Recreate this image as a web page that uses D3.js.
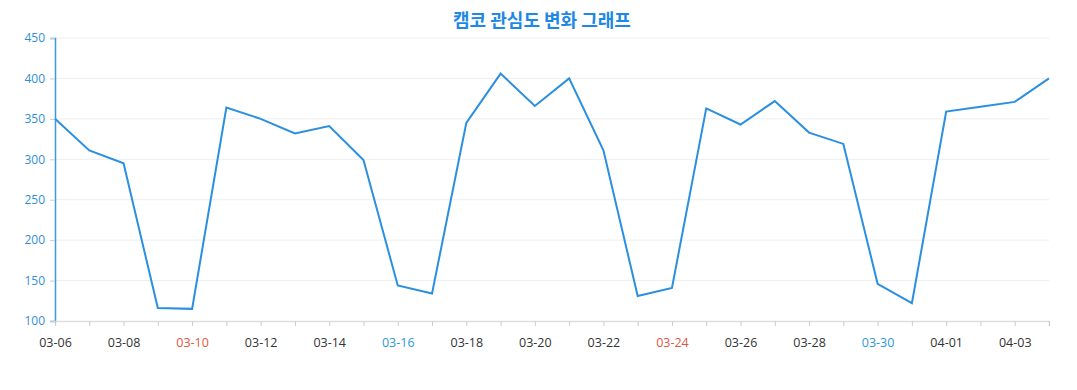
<!DOCTYPE html>
<html>
<head>
<meta charset="utf-8">
<script src="https://cdn.jsdelivr.net/npm/d3@7"></script>
<style>
  body { margin: 0; background: #fff; }
  svg { display: block; font-family: "Open Sans", "Noto Sans", sans-serif; }
</style>
</head>
<body>
<div id="chart"></div>
<script>
const dates = ['03-06','03-07','03-08','03-09','03-10','03-11','03-12','03-13','03-14','03-15',
  '03-16','03-17','03-18','03-19','03-20','03-21','03-22','03-23','03-24','03-25',
  '03-26','03-27','03-28','03-29','03-30','03-31','04-01','04-02','04-03','04-04'];
const values = [350, 311, 295, 116, 115, 364, 350, 332, 341, 299,
  144, 134, 345, 406, 366, 400, 311, 131, 141, 363,
  343, 372, 333, 319, 146, 122, 359, 365, 371, 400];
const yTicks = [100, 150, 200, 250, 300, 350, 400, 450];
const redDates = ['03-10', '03-24'];
const blueDates = ['03-16', '03-30'];

const width = 1077, height = 390;
const margin = { top: 38, right: 28, bottom: 69, left: 55 };

const svg = d3.select('#chart').append('svg')
  .attr('width', width)
  .attr('height', height);

const x = d3.scalePoint()
  .domain(dates)
  .range([margin.left, width - margin.right]);

const y = d3.scaleLinear()
  .domain([100, 450])
  .range([height - margin.bottom, margin.top]);

// title
svg.append('text')
  .attr('x', 542)
  .attr('y', 27)
  .attr('text-anchor', 'middle')
  .style('font-family', '"Noto Sans CJK KR", "Noto Sans", sans-serif')
  .style('font-size', '18px')
  .style('font-weight', 'bold')
  .attr('fill', '#1e88e5')
  .text('캠코 관심도 변화 그래프');

// grid lines
svg.append('g')
  .selectAll('line')
  .data(yTicks.slice(1))
  .enter()
  .append('line')
  .attr('x1', margin.left)
  .attr('x2', width - margin.right)
  .attr('y1', d => y(d))
  .attr('y2', d => y(d))
  .attr('stroke', '#eeeeee')
  .attr('stroke-width', 1);

// y axis
const yAxis = svg.append('g')
  .attr('transform', `translate(${margin.left},0)`)
  .call(d3.axisLeft(y).tickValues(yTicks).tickSize(5).tickPadding(5));
yAxis.attr('font-family', '"Open Sans", sans-serif');
yAxis.select('.domain').attr('stroke', '#3a9ae0').attr('stroke-width', 1.5);
yAxis.selectAll('.tick line').attr('stroke', '#cccccc');
yAxis.selectAll('.tick text')
  .attr('fill', '#2f8fd6')
  .style('font-size', '12px');

// x axis
const xAxis = svg.append('g')
  .attr('transform', `translate(0,${height - margin.bottom})`)
  .call(d3.axisBottom(x).tickSize(5).tickPadding(12)
    .tickFormat((d, i) => i % 2 === 0 ? d : ''));
xAxis.attr('font-family', '"Open Sans", sans-serif');
xAxis.select('.domain').attr('stroke', '#dddddd').attr('stroke-width', 1.5);
xAxis.selectAll('.tick line').attr('stroke', '#cccccc');
xAxis.selectAll('.tick text')
  .style('font-size', '12.5px')
  .attr('fill', d => redDates.includes(d) ? '#e0573e' : blueDates.includes(d) ? '#2a9ad6' : '#333333');

// line
const line = d3.line()
  .x((d, i) => x(dates[i]))
  .y(d => y(d));

svg.append('path')
  .datum(values)
  .attr('fill', 'none')
  .attr('stroke', '#2b8fe0')
  .attr('stroke-width', 2)
  .attr('stroke-linejoin', 'miter')
  .attr('d', line);
</script>
</body>
</html>
